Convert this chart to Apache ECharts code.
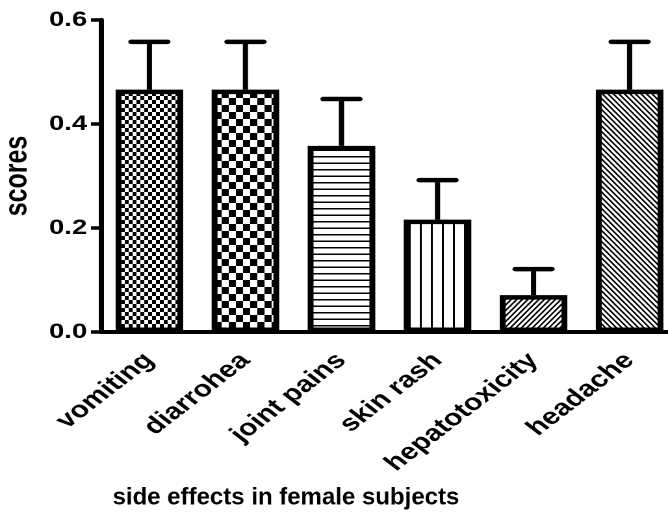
<!DOCTYPE html>
<html>
<head>
<meta charset="utf-8">
<script src="https://cdn.jsdelivr.net/npm/echarts@6/dist/echarts.min.js"></script>
<style>
html,body{margin:0;padding:0;background:#fff;overflow:hidden;width:668px;height:514px;}
#main{width:514px;height:514px;transform:scaleX(1.29961);transform-origin:0 0;}
</style>
</head>
<body>
<div id="main"></div>
<script>
const categories = ['vomiting', 'diarrohea', 'joint pains', 'skin rash', 'hepatotoxicity', 'headache'];
const scores = [0.466, 0.466, 0.358, 0.216, 0.071, 0.466];
const errorUpper = [0.558, 0.558, 0.448, 0.292, 0.121, 0.558];
const yTicks = [0, 0.2, 0.4, 0.6];
const yAxisTitle = 'scores';
const xAxisTitle = 'side effects in female subjects';

const STRETCH = 1.29961;
const R = 2; // pattern tile resolution (device px per logical px)
const FONT = '"Liberation Sans", Arial, Helvetica, sans-serif';

// tiles are drawn in device pixels
function makeTile(w, h, draw) {
  const c = document.createElement('canvas');
  c.width = w; c.height = h;
  const ctx = c.getContext('2d');
  ctx.fillStyle = '#fff';
  ctx.fillRect(0, 0, w, h);
  ctx.fillStyle = '#000';
  ctx.strokeStyle = '#000';
  draw(ctx, w, h);
  return c;
}
function checker(w, h) {
  return makeTile(2 * w, 2 * h, (ctx) => {
    ctx.fillRect(0, 0, w, h);
    ctx.fillRect(w, h, w, h);
  });
}
function diag(W, H, n, lw, dir) {
  return makeTile(W, H, (ctx) => {
    ctx.lineWidth = lw;
    ctx.beginPath();
    const step = W / n;
    for (let k = -2 * n; k <= 2 * n; k++) {
      const o = k * step;
      if (dir > 0) { ctx.moveTo(o - W, 2 * H); ctx.lineTo(o + 2 * W, -H); }
      else { ctx.moveTo(o - W, -H); ctx.lineTo(o + 2 * W, 2 * H); }
    }
    ctx.stroke();
  });
}
const tiles = [
  checker(6, 8),
  checker(11, 14),
  makeTile(8, 13, (ctx) => { ctx.fillRect(0, 0, 8, 3); }),
  makeTile(17, 8, (ctx) => { ctx.fillRect(0, 0, 3, 8); }),
  diag(17, 22, 2, 2.8, 1),
  diag(17, 22, 2, 2.8, -1)
];

const chart = echarts.init(document.getElementById('main'), null, { renderer: 'canvas', devicePixelRatio: 2 });

const barData = scores.map((v, i) => ({
  value: v,
  itemStyle: {
    color: { image: tiles[i], repeat: 'repeat', scaleX: 1 / R, scaleY: 1 / R },
    borderColor: '#000',
    borderWidth: 4.5
  }
}));
const errData = scores.map((v, i) => [i, v, errorUpper[i]]);

chart.setOption({
  backgroundColor: '#fff',
  animation: false,
  grid: { left: 78, top: 20, width: 443.4, height: 312, containLabel: false, outerBoundsMode: 'none' },
  xAxis: {
    type: 'category',
    data: categories,
    axisLine: { lineStyle: { color: '#000', width: 4 } },
    axisTick: { alignWithLabel: true, length: 10, lineStyle: { color: '#000', width: 3 } },
    axisLabel: {
      rotate: 45, margin: 25, color: '#000', fontSize: 23, fontWeight: 'bold',
      fontFamily: FONT, interval: 0
    },
    splitLine: { show: false }
  },
  yAxis: {
    type: 'value',
    min: yTicks[0], max: yTicks[yTicks.length - 1], interval: 0.2,
    name: yAxisTitle,
    nameLocation: 'middle',
    nameRotate: 90,
    nameGap: 52,
    nameTextStyle: { color: '#000', fontSize: 25, fontWeight: 'bold', fontFamily: FONT },
    axisLine: { show: true, lineStyle: { color: '#000', width: 4 } },
    axisTick: { show: true, length: 8, lineStyle: { color: '#000', width: 3.5 } },
    axisLabel: {
      margin: 11, color: '#000', fontSize: 21, fontWeight: 'bold', fontFamily: FONT,
      formatter: (v) => v.toFixed(1)
    },
    splitLine: { show: false }
  },
  graphic: [{
    type: 'text',
    x: 220, y: 498,
    scaleX: 1 / STRETCH,
    style: {
      text: xAxisTitle, fill: '#000',
      font: 'bold 24px ' + FONT,
      textAlign: 'center', textVerticalAlign: 'middle'
    }
  }],
  series: [
    {
      type: 'bar',
      data: barData,
      barWidth: 52,
      z: 2
    },
    {
      type: 'custom',
      data: errData,
      encode: { x: 0, y: [1, 2] },
      z: 3,
      renderItem: function (params, api) {
        const x = api.value(0);
        const p0 = api.coord([x, api.value(1)]);
        const p1 = api.coord([x, api.value(2)]);
        const half = 14;
        return {
          type: 'group',
          children: [
            { type: 'line', shape: { x1: p0[0], y1: p0[1], x2: p1[0], y2: p1[1] },
              style: { stroke: '#000', lineWidth: 4 } },
            { type: 'line', shape: { x1: p1[0] - half, y1: p1[1], x2: p1[0] + half, y2: p1[1] },
              style: { stroke: '#000', lineWidth: 4.5, lineCap: 'round' } }
          ]
        };
      }
    }
  ]
});
</script>
</body>
</html>
